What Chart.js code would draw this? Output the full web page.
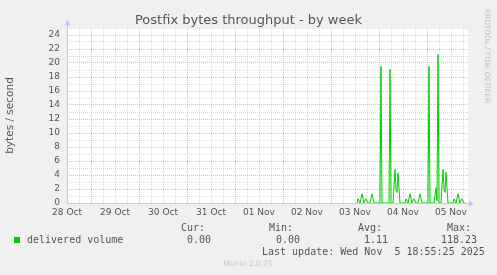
<!DOCTYPE html>
<html>
<head>
<meta charset="utf-8">
<title>Postfix bytes throughput - by week</title>
<script src="https://cdn.jsdelivr.net/npm/chart.js@4/dist/chart.umd.min.js"></script>
<style>
  html, body { margin: 0; padding: 0; background: #f0f0f0; }
  canvas { display: block; }
</style>
</head>
<body>
<canvas id="munin" width="497" height="275"></canvas>
<script>
// hours counted from the left edge of the graph (28 Oct)
const hours = [145, 145.5, 146.5, 147.5, 148.5, 149.5, 150.5, 151.5, 152.5, 153.5,
    156.5, 157, 157.5, 161, 161.5, 162, 163, 164, 164.5, 165, 165.5, 166.5,
    169, 169.5, 170.5, 171.5, 172.5, 173.5, 174.5, 175.5, 176.5, 177.5,
    180.5, 181, 181.5, 183.5, 184.5, 185, 185.5, 186, 187, 188, 188.5, 189, 189.5, 190.5,
    193, 193.5, 194.5, 195.5, 196.5, 197.5, 198.5, 199];
const volume = [0, 0.6, 0, 1.3, 0, 0.6, 0, 0, 1.3, 0,
    0, 19.5, 0, 0, 19.1, 0, 0, 4.8, 2.0, 1.5, 4.3, 0,
    0, 0.6, 0, 1.3, 0, 0.6, 0, 0, 1.3, 0,
    0, 19.5, 0, 0, 2.2, 0.3, 21.2, 0, 0, 4.8, 2.0, 1.5, 4.4, 0,
    0, 0.6, 0, 1.3, 0, 0.6, 0, 0];
const dayLabels = ['28 Oct', '29 Oct', '30 Oct', '31 Oct', '01 Nov', '02 Nov', '03 Nov', '04 Nov', '05 Nov'];
const statNames = ['Cur:', 'Min:', 'Avg:', 'Max:'];
const statValues = ['0.00', '0.00', '1.11', '118.23'];
const lastUpdate = 'Last update: Wed Nov  5 18:55:25 2025';

const RED = 'rgba(228,130,130,0.6)';
const GREY = 'rgba(185,185,185,0.5)';
const AXIS = 'rgb(196,196,250)';
const TEXT = '#555';

const muninPlugin = {
    id: 'munin',
    beforeDraw(chart) {
        const { ctx, chartArea: a } = chart;
        ctx.save();
        ctx.fillStyle = '#f0f0f0';
        ctx.fillRect(0, 0, chart.width, chart.height);
        ctx.fillStyle = '#fff';
        ctx.fillRect(a.left, a.top, a.right - a.left, a.bottom - a.top);
        ctx.restore();
    },
    beforeDatasetsDraw(chart) {
        const { ctx, chartArea: a } = chart;
        ctx.save();
        ctx.strokeStyle = AXIS;
        ctx.fillStyle = AXIS;
        ctx.lineWidth = 1;
        ctx.beginPath();
        ctx.moveTo(a.left + 0.5, a.bottom);
        ctx.lineTo(a.left + 0.5, a.top - 4);
        ctx.moveTo(a.left, a.bottom + 0.5);
        ctx.lineTo(a.right + 1, a.bottom + 0.5);
        ctx.stroke();
        // arrow heads
        ctx.beginPath();
        ctx.moveTo(a.left + 0.5, a.top - 8);
        ctx.lineTo(a.left + 3.5, a.top - 3);
        ctx.lineTo(a.left - 2.5, a.top - 3);
        ctx.closePath();
        ctx.fill();
        ctx.beginPath();
        ctx.moveTo(a.right + 6, a.bottom + 0.5);
        ctx.lineTo(a.right + 1, a.bottom + 3.5);
        ctx.lineTo(a.right + 1, a.bottom - 2.5);
        ctx.closePath();
        ctx.fill();
        ctx.restore();
    },
    afterDraw(chart) {
        const { ctx } = chart;
        ctx.save();
        ctx.textBaseline = 'alphabetic';
        ctx.fillStyle = TEXT;
        ctx.font = '13px "DejaVu Sans"';
        ctx.textAlign = 'center';
        ctx.fillText('Postfix bytes throughput - by week', 248.5, 24);

        // watermark
        ctx.save();
        ctx.translate(485, 9);
        ctx.rotate(Math.PI / 2);
        ctx.font = '7.3px "DejaVu Sans"';
        ctx.fillStyle = '#c4c4c4';
        ctx.textAlign = 'left';
        ctx.fillText('RRDTOOL / TOBI OETIKER', 0, 0);
        ctx.restore();

        // legend block
        ctx.textBaseline = 'middle';
        ctx.textAlign = 'left';
        ctx.font = '10px "DejaVu Sans Mono"';
        ctx.fillStyle = '#00cc00';
        ctx.fillRect(14, 237, 6, 6);
        ctx.fillStyle = TEXT;
        ctx.fillText('delivered volume', 27, 240);
        const nameX = [181, 269, 358, 447];
        const valX = [187, 276, 364, 441];
        statNames.forEach((n, i) => ctx.fillText(n, nameX[i], 228.5));
        statValues.forEach((v, i) => ctx.fillText(v, valX[i], 240));
        ctx.fillText(lastUpdate, 262, 252);

        ctx.font = '7.5px "DejaVu Sans"';
        ctx.fillStyle = '#c8c8c8';
        ctx.textAlign = 'center';
        ctx.fillText('Munin 2.0.75', 248, 264);
        ctx.restore();
    }
};

const points = hours.map((h, i) => ({ x: h, y: volume[i] }));

new Chart(document.getElementById('munin'), {
    type: 'line',
    data: {
        datasets: [{
            label: 'delivered volume',
            data: points,
            borderColor: '#00cc00',
            borderWidth: 1,
            pointRadius: 0,
            fill: false,
            tension: 0,
        }]
    },
    options: {
        responsive: false,
        animation: false,
        layout: { padding: { left: 0, right: 29, top: 28, bottom: 0 } },
        plugins: {
            legend: { display: false },
            tooltip: { enabled: false },
        },
        scales: {
            x: {
                type: 'linear',
                min: 0,
                max: 200.5,
                afterBuildTicks: (s) => {
                    const t = [];
                    for (let h = 0; h <= 198; h += 6) t.push({ value: h });
                    s.ticks = t;
                },
                afterFit: (s) => { s.height = 72; },
                grid: {
                    color: (c) => (c.tick && c.tick.value % 24 === 12 ? RED : GREY),
                    drawTicks: false,
                },
                border: { display: false, dash: [1, 1] },
                ticks: {
                    autoSkip: false,
                    maxRotation: 0,
                    padding: 4,
                    color: TEXT,
                    font: { family: 'DejaVu Sans', size: 9 },
                    callback: (v) => (v % 24 === 0 ? dayLabels[v / 24] : ''),
                },
            },
            y: {
                min: 0,
                max: 25,
                afterBuildTicks: (s) => {
                    const t = [];
                    for (let v = 0; v <= 25; v++) t.push({ value: v });
                    s.ticks = t;
                },
                afterFit: (s) => { s.width = 67; },
                grid: {
                    color: (c) => (c.tick && c.tick.value % 2 === 0 ? RED : GREY),
                    drawTicks: false,
                },
                border: { display: false, dash: [1, 1] },
                ticks: {
                    autoSkip: false,
                    padding: 7,
                    color: TEXT,
                    font: { family: 'DejaVu Sans', size: 9 },
                    callback: (v) => (v % 2 === 0 ? String(v) : ''),
                },
                title: {
                    display: true,
                    text: 'bytes / second',
                    color: TEXT,
                    font: { family: 'DejaVu Sans', size: 10.5 },
                    padding: { top: 4, bottom: 4 },
                },
            },
        },
    },
    plugins: [muninPlugin],
});
</script>
</body>
</html>
